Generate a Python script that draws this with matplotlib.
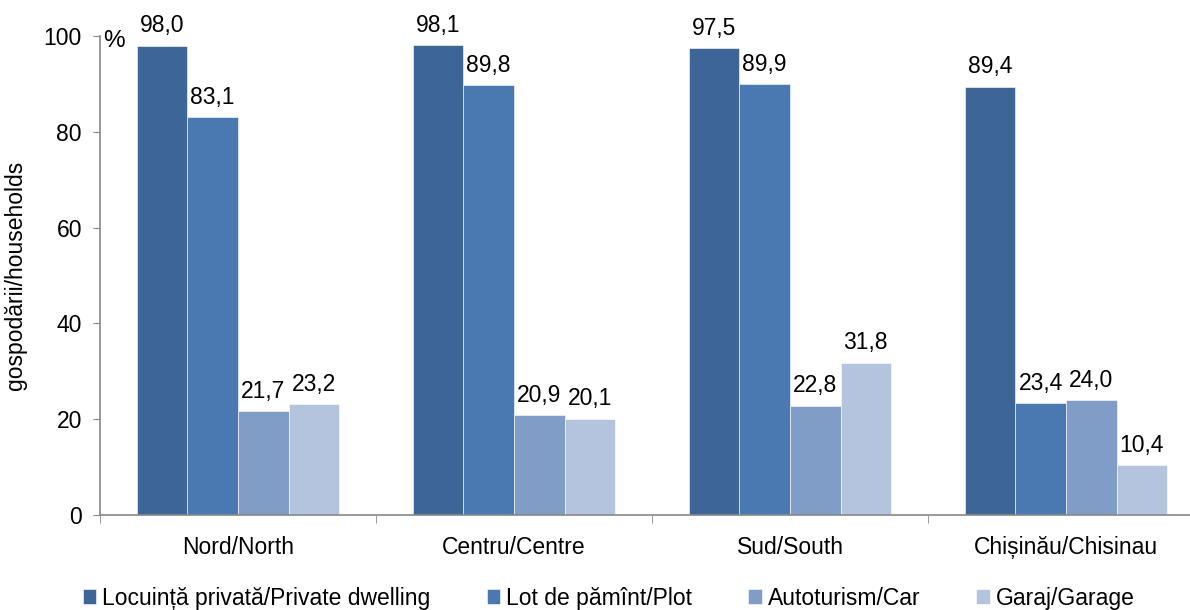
import numpy as np
import matplotlib
matplotlib.use("Agg")
import matplotlib.pyplot as plt

plt.rcParams['font.family'] = ['Liberation Sans', 'DejaVu Sans']

regions = ["Nord/North", "Centru/Centre", "Sud/South", "Chișinău/Chisinau"]
series = ["Locuință privată/Private dwelling", "Lot de pămînt/Plot",
          "Autoturism/Car", "Garaj/Garage"]
dwelling = [98.0, 98.1, 97.5, 89.4]
plot_land = [83.1, 89.8, 89.9, 23.4]
car = [21.7, 20.9, 22.8, 24.0]
garage = [23.2, 20.1, 31.8, 10.4]
colors = ["#3D6596", "#4A78B0", "#809DC8", "#B4C4DF"]

fs = 16.5

fig = plt.figure(figsize=(11.9, 6.1), dpi=100)
ax = fig.add_axes([100 / 1190, 95 / 610, 1104 / 1190, 479 / 610])

x = np.arange(len(regions))
w = 0.183
for i, (vals, name) in enumerate(zip([dwelling, plot_land, car, garage], series)):
    pos = x + (i - 1.5) * w
    bars = ax.bar(pos, vals, w, color=colors[i], label=name, edgecolor="white", linewidth=0.4)
    for b, v in zip(bars, vals):
        ax.annotate(f"{v:.1f}".replace(".", ","), (b.get_x() + b.get_width() / 2, v),
                    xytext=(0, 6), textcoords="offset points", ha="center", va="bottom",
                    fontsize=fs)

ax.set_xlim(-0.5, 3.5)
ax.set_ylim(0, 100)
ax.set_yticks([0, 20, 40, 60, 80, 100])
ax.tick_params(axis="y", labelsize=fs, length=5, color="#888888", direction="out", pad=8)
ax.set_xticks(x)
ax.set_xticklabels(regions, fontsize=fs)
ax.tick_params(axis="x", which="major", length=0, pad=15)
ax.set_xticks(np.arange(-0.5, 3.6, 1), minor=True)
ax.tick_params(axis="x", which="minor", length=6, color="#888888")
for s in ["top", "right"]:
    ax.spines[s].set_visible(False)
for s in ["left", "bottom"]:
    ax.spines[s].set_color("#888888")
    ax.spines[s].set_linewidth(1.2)

ax.set_ylabel("gospodării/households", fontsize=fs, labelpad=12)
ax.text(0.003, 0.99, "%", transform=ax.transAxes, fontsize=fs + 1, va="center", ha="left")

fig.legend(loc="lower left", bbox_to_anchor=(62 / 1190, -0.033), ncol=4, frameon=False,
           fontsize=fs, handlelength=0.6, handleheight=0.6, handletextpad=0.25,
           columnspacing=2.45)

fig.savefig("out.png", dpi=100)
